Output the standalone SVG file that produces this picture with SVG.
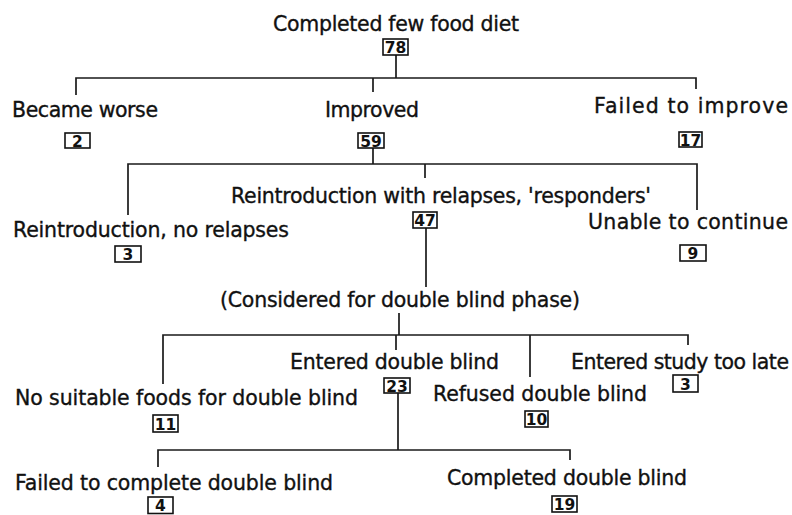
<svg xmlns="http://www.w3.org/2000/svg" width="792" height="515" viewBox="0 0 792 515">
<style>
.t{font-family:"DejaVu Sans","Liberation Sans",Arial,sans-serif;font-size:20.5px;fill:#111;stroke:#111;stroke-width:0.35}
.b{fill:#fff;stroke:#111;stroke-width:1.6}
.n{font-family:"DejaVu Sans","Liberation Sans",Arial,sans-serif;font-size:15.5px;font-weight:bold;fill:#111;text-anchor:middle}
.c{fill:none;stroke:#1a1a1a;stroke-width:1.7}
</style>
<rect width="792" height="515" fill="#fff"/>
<g id="connectors">
<path class="c" d="M396 55V78M76 95V78H696V89M373 78V92"/>
<path class="c" d="M373 148V164M128 215V164H697V210M425 164V178"/>
<path class="c" d="M426 228V287"/>
<path class="c" d="M399 313V335M163 384V335H688V345M396 335V350M530 335V377"/>
<path class="c" d="M398 393V450M158 467V450H570V460"/>
</g>
<g id="n_completed_few_food">
<text class="t" x="273" y="31" textLength="246" lengthAdjust="spacing">Completed few food diet</text>
<rect class="b" x="383" y="39" width="25" height="16"/><text class="n" x="395.5" y="53">78</text>
</g>
<g id="n_became_worse">
<text class="t" x="12" y="117" textLength="146" lengthAdjust="spacing">Became worse</text>
<rect class="b" x="65" y="133" width="25" height="15"/><text class="n" x="77.5" y="146.5">2</text>
</g>
<g id="n_improved">
<text class="t" x="325" y="117" textLength="94" lengthAdjust="spacing">Improved</text>
<rect class="b" x="358" y="133" width="26" height="15"/><text class="n" x="371" y="146.5">59</text>
</g>
<g id="n_failed_improve">
<text class="t" x="594" y="113" textLength="194" lengthAdjust="spacing">Failed to improve</text>
<rect class="b" x="679" y="132" width="23" height="15"/><text class="n" x="690.5" y="145.5">17</text>
</g>
<g id="n_reintro_no_relapse">
<text class="t" x="13" y="237" textLength="276" lengthAdjust="spacing">Reintroduction, no relapses</text>
<rect class="b" x="115" y="246" width="26" height="16"/><text class="n" x="128" y="260">3</text>
</g>
<g id="n_responders">
<text class="t" x="231" y="203" textLength="420" lengthAdjust="spacing">Reintroduction with relapses, 'responders'</text>
<rect class="b" x="413" y="212" width="24" height="16"/><text class="n" x="425" y="226">47</text>
</g>
<g id="n_unable">
<text class="t" x="588" y="229" textLength="200" lengthAdjust="spacing">Unable to continue</text>
<rect class="b" x="680" y="245" width="26" height="16"/><text class="n" x="693" y="259">9</text>
</g>
<g id="n_considered">
<text class="t" x="220" y="307" textLength="360" lengthAdjust="spacing">(Considered for double blind phase)</text>
</g>
<g id="n_no_suitable">
<text class="t" x="15" y="405" textLength="343" lengthAdjust="spacing">No suitable foods for double blind</text>
<rect class="b" x="153" y="415" width="25" height="17"/><text class="n" x="165.5" y="429.5">11</text>
</g>
<g id="n_entered_db">
<text class="t" x="290" y="369" textLength="209" lengthAdjust="spacing">Entered double blind</text>
<rect class="b" x="384" y="378" width="26" height="15"/><text class="n" x="397" y="391.5">23</text>
</g>
<g id="n_refused">
<text class="t" x="433" y="401" textLength="214" lengthAdjust="spacing">Refused double blind</text>
<rect class="b" x="525" y="411" width="23" height="16"/><text class="n" x="536.5" y="425">10</text>
</g>
<g id="n_too_late">
<text class="t" x="571" y="369" textLength="218" lengthAdjust="spacing">Entered study too late</text>
<rect class="b" x="673" y="375" width="25" height="17"/><text class="n" x="685.5" y="389.5">3</text>
</g>
<g id="n_failed_complete">
<text class="t" x="15" y="490" textLength="318" lengthAdjust="spacing">Failed to complete double blind</text>
<rect class="b" x="148" y="497" width="25" height="16.5"/><text class="n" x="160.5" y="510.5">4</text>
</g>
<g id="n_completed_db">
<text class="t" x="447" y="485" textLength="240" lengthAdjust="spacing">Completed double blind</text>
<rect class="b" x="552" y="496" width="25" height="16"/><text class="n" x="564.5" y="510">19</text>
</g>
</svg>
